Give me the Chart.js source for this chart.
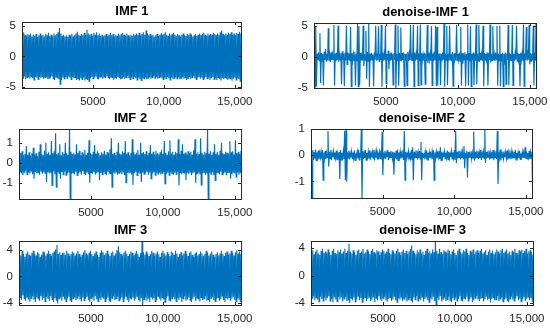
<!DOCTYPE html>
<html><head><meta charset="utf-8">
<script src="https://cdn.jsdelivr.net/npm/chart.js@4/dist/chart.umd.min.js"></script>
<style>
html,body{margin:0;padding:0;background:#fff;}
body{width:550px;height:329px;position:relative;overflow:hidden;}
canvas{position:absolute;}
</style>
</head><body>
<canvas id="p1"></canvas><canvas id="p2"></canvas><canvas id="p3"></canvas>
<canvas id="p4"></canvas><canvas id="p5"></canvas><canvas id="p6"></canvas>
<script>
// ---------- data (per-bin max / min of each signal, 160 bins over the sample axis) ----------
const nSamples = 15500;
const xTicks = [5000, 10000, 15000];
const xTickLabels = ['5000', '10,000', '15,000'];
const yTicks5 = [-5, 0, 5];
const yTicks1 = [-1, 0, 1];
const yTicks4 = [-4, 0, 4];

const imf1Hi = [3.9,4.0,3.6,3.4,3.7,3.5,3.8,3.3,3.6,3.4, 3.7,3.2,3.5,3.8,3.4,3.6,3.3,3.7,3.5,3.9,
 3.4,3.6,3.3,3.8,3.5,3.7,4.0,4.7,3.8,3.4, 3.6,3.3,3.5,3.2,3.6,3.4,3.7,3.3,3.5,3.8,
 4.1,3.6,3.4,3.7,3.5,3.9,3.6,4.4,3.8,3.5, 3.7,3.4,3.9,3.6,4.0,3.5,3.8,3.4,3.6,3.3,
 3.5,3.7,3.4,3.6,3.9,3.5,3.7,3.3,3.6,3.4, 3.8,3.5,3.7,3.9,3.6,3.4,3.8,3.5,3.3,3.6,
 3.4,3.7,3.5,3.8,3.6,3.9,3.5,3.7,4.0,3.6, 4.3,3.8,3.5,3.7,3.4,3.6,3.3,3.5,3.7,3.4,
 3.6,3.8,3.5,3.7,4.0,3.6,3.4,3.8,3.5,3.7, 3.9,3.6,3.4,3.7,3.5,3.3,3.6,3.8,3.5,3.4,
 3.7,3.5,3.8,3.6,3.3,3.5,3.7,3.4,3.6,3.8, 3.5,3.7,3.9,3.6,3.4,3.8,3.5,3.7,3.6,3.9,
 3.7,3.5,3.8,3.6,4.0,4.3,3.7,3.5,3.8,3.6, 3.9,3.7,4.0,3.6,3.8,3.5,3.9,3.7,4.1,3.8];
const imf1Lo = [-3.6,-3.3,-3.8,-3.5,-3.4,-3.7,-3.3,-3.6,-3.9,-3.4, -3.5,-3.8,-3.4,-3.6,-3.3,-3.7,-3.5,-3.4,-3.8,-3.6,
 -3.5,-3.3,-3.7,-3.9,-3.4,-3.6,-3.8,-4.6,-3.9,-3.5, -3.7,-3.4,-3.6,-3.3,-3.5,-3.8,-3.4,-3.6,-3.5,-3.9,
 -3.7,-4.0,-3.6,-3.8,-3.5,-4.0,-3.7,-3.9,-4.1,-3.6, -3.4,-3.7,-3.5,-3.3,-3.6,-3.8,-3.4,-3.5,-3.7,-3.4,
 -3.6,-3.3,-3.5,-3.8,-3.4,-3.6,-3.9,-3.5,-3.7,-3.4, -3.5,-3.8,-3.6,-3.4,-3.7,-3.5,-3.3,-3.6,-3.8,-3.5,
 -3.7,-3.4,-3.6,-3.9,-3.5,-3.8,-4.0,-3.6,-3.7,-3.5, -3.8,-3.6,-3.4,-3.7,-3.5,-3.3,-3.6,-3.4,-3.7,-3.5,
 -3.4,-3.6,-3.8,-3.5,-3.7,-3.4,-3.6,-3.9,-3.5,-3.7, -3.6,-3.4,-3.7,-3.5,-3.8,-3.6,-3.4,-3.7,-3.5,-3.9,
 -3.6,-3.4,-3.7,-3.5,-3.3,-3.6,-3.8,-3.5,-3.4,-3.7, -3.5,-3.8,-3.6,-3.4,-3.7,-3.5,-3.9,-3.6,-3.4,-3.8,
 -3.6,-3.9,-3.5,-3.7,-4.0,-3.6,-3.8,-3.5,-3.7,-3.9, -3.6,-3.8,-4.0,-3.7,-3.5,-3.9,-3.6,-3.8,-4.1,-3.7];

const imf2Hi = [0.45,0.52,0.6,0.4,0.48,0.86,0.42,0.55,0.38,0.5, 0.78,0.44,0.5,0.36,0.58,0.95,0.46,0.4,0.62,1.03,
 0.48,0.55,0.42,1.12,0.5,0.6,1.5,0.45,0.52,0.95, 0.4,0.56,0.47,1.03,0.5,0.43,1.72,0.58,0.46,0.52,
 0.44,0.95,0.5,0.62,0.4,0.55,0.48,0.66,0.42,0.53, 1.15,0.5,0.45,0.58,0.91,0.47,0.6,0.52,0.4,0.55,
 0.48,0.62,0.44,0.56,0.5,0.7,1.26,0.46,0.53,0.41, 0.57,1.03,0.49,0.44,0.6,0.52,1.12,0.47,0.55,0.4,
 0.5,1.2,0.58,0.45,0.52,0.66,0.43,1.03,0.5,0.56, 0.46,0.6,0.41,0.53,0.91,0.48,0.57,0.44,0.62,0.5,
 0.45,0.55,0.68,0.47,1.12,0.52,0.43,0.6,1.15,0.49, 0.56,0.42,0.58,0.5,1.2,0.46,0.62,0.95,0.48,0.54,
 0.44,0.6,0.5,0.57,0.43,0.65,1.2,0.48,0.55,0.46, 1.26,0.52,0.44,0.58,0.5,1.72,0.47,0.6,0.42,0.55,
 0.95,0.48,0.56,0.43,0.62,1.03,0.5,0.45,0.58,0.52, 0.47,1.1,0.55,0.6,0.44,1.15,0.5,0.57,0.46,0.62];
const imf2Lo = [-0.42,-0.5,-0.6,-0.45,-0.38,-0.57,-0.48,-0.52,-0.4,-0.55, -0.78,-0.44,-0.5,-0.47,-0.58,-0.42,-0.53,-0.46,-0.5,-0.95,
 -0.45,-0.52,-0.48,-1.12,-0.4,-0.55,-1.2,-0.47,-0.5,-0.78, -0.44,-0.58,-0.42,-0.6,-0.5,-0.46,-1.85,-0.53,-0.48,-0.56,
 -0.43,-0.62,-0.5,-0.45,-0.57,-0.4,-0.52,-0.6,-0.47,-0.55, -0.98,-0.46,-0.53,-0.44,-0.58,-0.5,-0.42,-0.86,-0.48,-0.56,
 -0.45,-0.52,-0.6,-0.43,-0.5,-0.55,-1.2,-0.47,-0.53,-0.44, -0.58,-0.5,-0.46,-0.55,-0.42,-0.6,-0.98,-0.48,-0.52,-0.45,
 -0.57,-1.09,-0.5,-0.44,-0.62,-0.48,-0.53,-0.95,-0.46,-0.55, -0.5,-0.43,-0.58,-0.47,-0.78,-0.52,-0.45,-0.6,-0.48,-0.54,
 -0.46,-0.57,-0.5,-0.44,-1.03,-0.53,-0.48,-0.6,-0.45,-0.52, -0.58,-0.47,-0.55,-0.43,-1.12,-0.5,-0.56,-0.46,-0.52,-0.86,
 -0.48,-0.55,-0.44,-0.6,-0.5,-0.46,-0.98,-0.53,-0.47,-0.57, -1.09,-0.5,-0.45,-0.58,-0.52,-1.85,-0.48,-0.55,-0.44,-0.6,
 -0.86,-0.5,-0.47,-0.56,-0.43,-0.58,-0.52,-0.46,-0.6,-0.5, -0.45,-0.78,-0.55,-0.48,-0.52,-0.69,-0.46,-0.58,-0.5,-0.55];

const imf3Hi = [3.6,3.2,3.9,3.4,3.0,3.5,3.8,3.3,3.1,3.6, 3.9,3.4,3.2,3.7,3.5,3.0,3.3,3.8,3.6,3.2,
 3.5,3.9,3.4,3.1,3.6,3.8,4.1,4.8,3.4,3.7, 3.3,3.6,3.6,3.3,3.9,3.5,3.1,3.4,3.8,3.6,
 3.2,3.5,3.9,3.4,3.0,3.3,3.7,4.0,3.5,3.2, 3.6,3.9,3.4,3.1,3.5,3.8,3.3,3.0,3.6,4.0,
 3.7,3.3,3.5,3.9,3.4,3.1,3.6,3.8,3.2,3.5, 4.0,4.6,3.7,3.4,3.2,3.6,3.9,3.5,3.1,3.4,
 3.8,3.6,3.2,3.5,3.9,3.4,3.0,3.6,5.4,3.7, 3.3,3.8,3.5,3.1,3.4,3.9,3.6,3.2,3.5,3.8,
 3.4,3.0,3.6,3.9,3.5,3.2,3.7,3.4,3.1,3.8, 3.6,3.3,3.9,3.5,3.0,3.4,3.7,3.2,3.5,3.9,
 3.4,3.1,3.6,3.8,3.3,3.0,3.5,3.7,3.2,3.4, 3.8,3.5,3.1,3.4,3.9,3.6,3.2,3.5,3.8,3.3,
 3.0,3.4,3.7,3.2,3.5,3.9,3.4,3.1,3.6,3.8, 3.3,3.5,3.9,3.6,3.2,3.7,4.0,3.5,3.8,3.4];
const imf3Lo = [-3.2,-3.6,-2.9,-3.4,-3.7,-3.1,-3.5,-3.8,-3.3,-3.0, -3.5,-3.9,-3.2,-3.4,-3.7,-3.0,-3.6,-3.3,-3.8,-3.1,
 -3.4,-3.7,-3.0,-3.5,-3.9,-3.3,-3.6,-4.1,-3.4,-3.2, -3.7,-3.0,-3.5,-3.8,-3.3,-3.1,-3.6,-3.9,-3.4,-3.2,
 -3.6,-3.3,-3.0,-3.5,-3.8,-3.2,-3.7,-3.4,-3.1,-3.6, -3.9,-3.4,-3.2,-3.7,-3.0,-3.5,-3.8,-3.3,-3.6,-3.1,
 -3.4,-3.8,-3.5,-3.2,-3.7,-3.9,-3.3,-3.0,-3.6,-3.4, -3.1,-3.7,-3.5,-3.2,-3.8,-3.4,-3.0,-3.6,-3.9,-3.3,
 -3.5,-3.2,-3.7,-3.4,-3.0,-3.6,-3.8,-3.3,-4.5,-3.5, -3.2,-3.7,-3.4,-3.9,-3.1,-3.5,-3.3,-3.8,-3.6,-3.0,
 -3.4,-3.7,-3.2,-3.5,-3.9,-3.3,-3.0,-3.6,-3.8,-3.4, -3.1,-3.5,-3.8,-3.3,-3.6,-3.2,-3.9,-3.4,-3.0,-3.7,
 -3.5,-3.2,-3.6,-3.9,-3.4,-3.1,-3.7,-3.3,-3.5,-3.8, -3.2,-3.6,-3.4,-3.0,-3.7,-3.5,-3.9,-3.3,-3.1,-3.6,
 -3.8,-3.4,-3.2,-3.7,-3.5,-3.0,-3.6,-3.9,-3.3,-3.5, -3.2,-3.7,-3.4,-3.1,-3.6,-3.8,-3.3,-3.5,-3.9,-3.4];

const dn1Hi = [5.2,4.9,0.5,0.7,3.8,0.6,0.45,0.8,1.3,0.5, 4.6,0.4,0.75,0.5,5.1,0.55,0.7,5.0,0.45,0.6,
 0.9,0.5,0.65,5.0,0.7,0.55,4.8,0.6,0.45,0.8, 0.5,5.3,4.9,0.6,0.7,5.0,0.45,4.2,0.8,5.4,
 0.5,0.65,0.4,0.7,5.0,0.55,4.9,0.45,5.1,0.7, 0.5,5.0,0.45,1.0,0.55,0.7,0.4,0.6,5.2,0.5,
 5.0,0.65,4.7,0.6,0.7,0.5,0.55,0.8,0.45,5.1, 0.6,5.1,0.7,0.45,5.0,0.55,5.2,0.6,0.4,0.65,
 0.5,5.1,0.7,0.45,4.9,0.55,0.8,5.0,4.8,0.5, 0.6,0.45,0.7,5.3,0.55,5.0,0.5,5.0,0.4,0.8,
 0.55,0.6,5.1,0.45,0.7,4.8,0.6,0.55,0.75,0.45, 5.2,0.6,4.9,0.5,0.7,0.45,5.2,0.55,5.1,0.65,
 0.5,5.0,0.6,0.45,0.7,0.55,5.2,0.5,4.9,0.45, 0.7,5.0,0.55,5.0,0.45,0.65,0.5,0.7,0.55,5.1,
 0.6,0.45,5.1,0.5,0.55,5.0,0.6,0.45,0.65,0.5, 5.2,0.55,4.8,0.45,5.1,0.6,0.5,5.0,0.65,5.3];
const dn1Lo = [-4.8,-4.7,-0.5,-0.6,-4.2,-0.7,-4.6,-0.5,-0.65,-0.45, -0.6,-0.8,-0.5,-0.45,-4.6,-0.7,-0.55,-0.8,-0.5,-4.4,
 -0.45,-4.7,-0.6,-1.2,-0.5,-0.7,-4.8,-0.55,-0.6,-4.6, -0.7,-4.8,-4.5,-0.5,-0.6,-1.5,-0.55,-3.5,-0.7,-4.8,
 -0.6,-0.5,-4.7,-0.45,-0.6,-0.55,-0.7,-0.5,-4.8,-0.6, -0.45,-4.3,-0.55,-2.0,-0.6,-0.5,-4.5,-0.45,-5.1,-0.6,
 -4.6,-0.55,-0.7,-0.5,-4.7,-0.6,-4.6,-0.7,-0.55,-0.5, -0.65,-4.8,-0.6,-0.45,-4.6,-0.7,-4.5,-0.55,-0.6,-4.4,
 -0.7,-1.0,-0.5,-0.6,-4.6,-0.65,-0.55,-4.7,-4.6,-0.5, -4.5,-0.7,-0.45,-4.8,-0.55,-4.5,-0.6,-0.5,-0.7,-4.7,
 -0.5,-0.6,-0.6,-0.45,-0.7,-4.6,-1.1,-0.5,-4.7,-0.45, -4.6,-0.7,-4.8,-0.55,-4.5,-0.6,-4.4,-0.65,-0.8,-0.55,
 -0.6,-4.7,-0.5,-0.45,-4.6,-0.55,-0.9,-0.6,-0.5,-0.65, -0.45,-4.6,-0.6,-4.7,-0.7,-4.8,-0.5,-4.4,-0.45,-4.5,
 -0.55,-0.7,-4.6,-0.6,-0.45,-0.7,-0.55,-4.7,-0.5,-0.6, -4.7,-0.5,-0.6,-0.45,-1.2,-0.7,-0.55,-4.6,-0.6,-4.8];

const dn2Hi = [0.15,0.2,0.12,0.22,0.1,0.18,0.08,0.14,0.2,0.1, 0.16,0.09,0.92,0.13,0.2,0.07,0.15,0.1,0.18,0.06,
 0.12,0.2,0.09,0.15,0.93,0.95,0.11,0.17,0.08,0.14, 0.1,0.19,0.07,0.13,0.22,0.09,1.0,0.16,0.1,0.2,
 0.08,0.14,0.18,0.07,0.12,0.2,0.1,0.15,0.06,0.13, 0.18,0.89,0.1,0.16,0.08,0.2,0.12,0.07,0.15,0.11,
 0.09,0.17,0.22,0.1,0.14,0.08,0.19,0.92,0.12,0.06, 0.15,0.1,0.2,0.3,0.13,0.08,0.18,0.11,0.16,0.5,
 0.1,0.07,0.14,0.19,0.09,0.12,0.06,0.15,0.2,0.1, 0.13,0.08,0.16,0.3,0.11,0.07,0.14,0.09,0.18,0.12,
 0.07,0.15,0.1,0.2,0.92,0.13,0.08,0.17,0.1,0.14, 0.35,0.09,0.18,0.12,0.07,0.15,0.1,0.9,0.13,0.08,
 0.16,0.11,0.2,0.09,0.14,0.97,0.12,0.07,0.18,0.1, 0.13,0.2,0.08,0.15,0.92,0.11,0.22,0.09,0.14,0.07,
 0.12,0.18,0.1,0.06,0.15,0.09,0.13,0.2,0.08,0.11, 0.17,0.07,0.12,0.1,0.3,0.14,0.08,0.16,0.11,0.13];
const dn2Lo = [-1.67,-0.18,-0.12,-0.2,-0.09,-0.16,-0.1,-0.14,-0.95,-0.11, -0.15,-0.08,-0.43,-0.12,-0.19,-0.07,-0.14,-0.1,-0.17,-0.06,
 -0.91,-0.18,-0.09,-0.14,-0.95,-1.0,-0.1,-0.16,-0.08,-0.13, -0.11,-0.2,-0.07,-0.12,-0.18,-0.09,-1.67,-0.15,-0.1,-0.19,
 -0.07,-0.13,-0.17,-0.08,-0.11,-0.2,-0.09,-0.14,-0.06,-0.12, -0.16,-0.76,-0.1,-0.15,-0.07,-0.19,-0.11,-0.08,-0.13,-0.74,
 -0.09,-0.16,-0.2,-0.1,-0.13,-0.07,-0.18,-0.95,-0.11,-0.06, -0.14,-0.1,-0.19,-0.95,-0.12,-0.08,-0.17,-0.1,-0.15,-0.95,
 -0.09,-0.07,-0.13,-0.18,-0.08,-0.11,-0.06,-0.14,-0.95,-0.1, -0.12,-0.08,-0.15,-0.2,-0.1,-0.07,-0.13,-0.09,-0.17,-0.11,
 -0.07,-0.14,-0.1,-0.18,-0.3,-0.12,-0.08,-0.16,-0.1,-0.13, -0.5,-0.09,-0.85,-0.11,-0.07,-0.14,-0.1,-0.2,-0.12,-0.08,
 -0.15,-0.1,-0.18,-0.09,-0.13,-0.3,-0.11,-0.07,-0.16,-0.1, -0.12,-0.19,-0.08,-0.14,-1.1,-0.1,-0.2,-0.09,-0.13,-0.07,
 -0.11,-0.17,-0.1,-0.06,-0.14,-0.09,-0.12,-0.18,-0.08,-0.1, -0.16,-0.07,-0.11,-0.1,-0.13,-0.14,-0.08,-0.15,-0.11,-1.67];

const dn3Hi = [3.4,3.7,3.1,3.5,3.8,3.2,3.0,3.6,3.9,3.3, 3.5,3.2,3.8,3.4,3.0,3.6,3.9,3.3,3.1,3.7,
 3.4,3.8,3.2,3.5,3.9,3.3,3.6,4.65,3.5,3.2, 3.7,3.4,3.0,3.6,3.8,3.3,3.5,3.9,3.2,3.4,
 3.8,3.5,3.1,3.6,3.9,3.4,3.2,3.7,3.5,3.0, 3.4,3.8,3.6,3.2,3.5,3.9,3.3,3.1,3.7,3.5,
 3.2,3.6,3.9,3.4,3.0,3.5,3.8,3.3,3.6,3.1, 3.5,3.9,4.4,3.6,3.3,3.1,3.7,3.4,3.8,3.2,
 3.5,3.0,3.6,3.9,3.3,3.5,3.2,3.8,3.4,5.04, 3.6,3.2,3.9,3.4,3.1,3.7,3.5,3.3,3.8,3.6,
 3.1,3.5,3.8,3.3,3.0,3.6,3.9,3.4,3.2,3.7, 3.5,3.9,3.3,3.0,3.6,3.4,3.8,3.1,3.5,3.7,
 3.3,3.6,3.9,3.2,3.4,3.7,3.0,3.5,3.8,3.3, 3.6,3.1,3.4,3.8,3.5,3.2,3.7,3.9,3.3,3.5,
 3.8,3.2,3.5,3.0,3.6,3.4,3.9,3.3,3.1,3.7, 3.5,3.8,3.3,3.6,3.9,3.2,3.5,3.7,3.4,3.0];
const dn3Lo = [-3.3,-3.0,-3.6,-3.2,-3.5,-3.8,-3.1,-3.4,-3.7,-3.2, -3.6,-3.3,-3.0,-3.7,-3.4,-3.9,-3.2,-3.5,-3.8,-3.1,
 -3.5,-3.2,-3.8,-3.4,-3.1,-3.7,-3.5,-4.0,-3.3,-3.6, -3.2,-3.8,-3.4,-3.0,-3.6,-3.3,-3.9,-3.5,-3.2,-3.7,
 -3.4,-3.1,-3.7,-3.5,-3.2,-3.9,-3.3,-3.6,-3.0,-3.5, -3.7,-3.3,-3.1,-3.6,-3.8,-3.4,-3.2,-3.7,-3.5,-3.0,
 -3.6,-3.9,-3.3,-3.5,-3.1,-3.7,-3.4,-3.2,-3.8,-3.5, -3.3,-3.6,-3.9,-3.2,-3.5,-3.0,-3.7,-3.4,-3.6,-3.1,
 -3.8,-3.4,-3.2,-3.6,-3.9,-3.3,-3.5,-3.1,-3.7,-4.44, -3.3,-3.6,-3.0,-3.8,-3.4,-3.2,-3.7,-3.5,-3.1,-3.6,
 -3.9,-3.3,-3.5,-3.2,-3.7,-3.4,-3.0,-3.6,-3.8,-3.3, -3.5,-3.1,-3.7,-3.4,-3.2,-3.9,-3.6,-3.3,-3.0,-3.5,
 -3.7,-3.4,-3.2,-3.8,-3.5,-3.1,-3.6,-3.3,-3.9,-3.4, -3.2,-3.6,-3.5,-3.0,-3.7,-3.4,-3.2,-3.8,-3.5,-3.3,
 -3.6,-3.9,-3.4,-3.1,-3.5,-3.7,-3.3,-3.0,-3.6,-3.4, -3.8,-3.5,-3.2,-3.7,-3.4,-3.1,-3.6,-3.3,-3.9,-3.5];

// ---------- layout / style ----------
const LINE_COLOR = '#0072BD';
const AXIS_COLOR = '#262626';
const FONT = "'Liberation Sans', Arial, Helvetica, sans-serif";
const PAD_L = 24, PAD_T = 18, PAD_R = 16, PAD_B = 22;

const panels = [
  {id:'p1', title:'IMF 1', hi:imf1Hi, lo:imf1Lo, yMin:-5.4, yMax:5.7, yTicks:yTicks5, box:[22,22,242,88]},
  {id:'p2', title:'IMF 2', hi:imf2Hi, lo:imf2Lo, yMin:-1.85, yMax:1.72, yTicks:yTicks1, box:[19,129,242,199]},
  {id:'p3', title:'IMF 3', hi:imf3Hi, lo:imf3Lo, yMin:-4.5, yMax:5.4, yTicks:yTicks4, box:[19,241,242,305]},
  {id:'p4', title:'denoise-IMF 2', hi:dn2Hi, lo:dn2Lo, yMin:-1.67, yMax:1.0, yTicks:yTicks1, box:[311,129,533,198]},
  {id:'p5', title:'denoise-IMF 1', hi:dn1Hi, lo:dn1Lo, yMin:-5.16, yMax:5.44, yTicks:yTicks5, box:[314,23,537,88]},
  {id:'p6', title:'denoise-IMF 3', hi:dn3Hi, lo:dn3Lo, yMin:-4.44, yMax:5.04, yTicks:yTicks4, box:[311,241,534,305]}
];

const boxPlugin = {
  id: 'matlabBox',
  afterDatasetsDraw(chart) {
    const {ctx, chartArea: a, scales: {x, y}} = chart;
    ctx.save();
    ctx.strokeStyle = AXIS_COLOR;
    ctx.lineWidth = 1;
    ctx.strokeRect(a.left + 0.5, a.top + 0.5, a.right - a.left - 1, a.bottom - a.top - 1);
    ctx.beginPath();
    const tl = 3;
    x.ticks.forEach(t => {
      const px = Math.round(x.getPixelForValue(t.value)) + 0.5;
      ctx.moveTo(px, a.bottom - 1); ctx.lineTo(px, a.bottom - 1 - tl);
      ctx.moveTo(px, a.top); ctx.lineTo(px, a.top + tl);
    });
    y.ticks.forEach(t => {
      const py = Math.round(y.getPixelForValue(t.value)) + 0.5;
      ctx.moveTo(a.left, py); ctx.lineTo(a.left + tl, py);
      ctx.moveTo(a.right - 1, py); ctx.lineTo(a.right - 1 - tl, py);
    });
    ctx.stroke();
    ctx.restore();
  }
};

panels.forEach(p => {
  const [L, T, R, B] = p.box;
  const cv = document.getElementById(p.id);
  const w = PAD_L + (R - L + 1) + PAD_R;
  const h = PAD_T + (B - T + 1) + PAD_B;
  cv.width = w; cv.height = h;
  cv.style.width = w + 'px'; cv.style.height = h + 'px';
  cv.style.left = (L - PAD_L) + 'px'; cv.style.top = (T - PAD_T) + 'px';

  const binW = nSamples / p.hi.length;
  const pts = [];
  p.hi.forEach((v, i) => {
    pts.push({x: (i + 0.25) * binW, y: v});
    pts.push({x: (i + 0.75) * binW, y: p.lo[i]});
  });

  new Chart(cv, {
    type: 'line',
    data: {datasets: [{data: pts, borderColor: LINE_COLOR, borderWidth: 1.15, pointRadius: 0, tension: 0, fill: false}]},
    options: {
      animation: false, responsive: false, maintainAspectRatio: false, devicePixelRatio: 1,
      layout: {padding: {left: 0, top: 0, right: PAD_R, bottom: 0}},
      plugins: {
        legend: {display: false}, tooltip: {enabled: false},
        title: {display: true, text: p.title, fullSize: false, color: '#000',
          font: {family: FONT, size: 13, weight: 'bold', lineHeight: 1.2},
          padding: {top: 0, bottom: 2.4}}
      },
      scales: {
        x: {
          type: 'linear', min: 0, max: nSamples,
          afterBuildTicks: s => { s.ticks = xTicks.map(v => ({value: v})); },
          afterFit: s => { s.height = PAD_B; },
          ticks: {autoSkip: false, maxRotation: 0, padding: 6, color: AXIS_COLOR,
            font: {family: FONT, size: 11.5},
            callback: v => xTickLabels[xTicks.indexOf(v)]},
          grid: {display: false, drawTicks: false}, border: {display: false}
        },
        y: {
          type: 'linear', min: p.yMin, max: p.yMax,
          afterBuildTicks: s => { s.ticks = p.yTicks.map(v => ({value: v})); },
          afterFit: s => { s.width = PAD_L; },
          ticks: {autoSkip: false, padding: 6, color: AXIS_COLOR,
            font: {family: FONT, size: 11.5},
            callback: v => String(v)},
          grid: {display: false, drawTicks: false}, border: {display: false}
        }
      }
    },
    plugins: [boxPlugin]
  });
});
</script>
</body></html>
